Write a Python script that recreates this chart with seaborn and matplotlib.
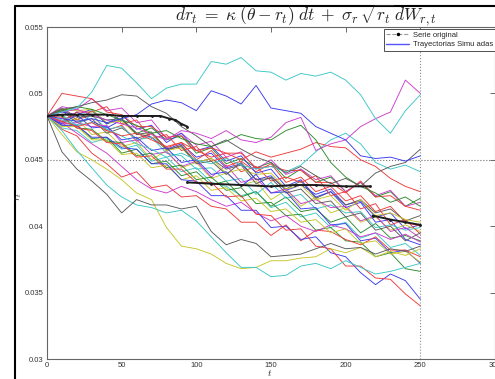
import numpy as np
import pandas as pd
import matplotlib
matplotlib.use("Agg")
import matplotlib.pyplot as plt
from matplotlib.lines import Line2D
import seaborn as sns

# time axis of the simulated paths
t_grid = [0, 10, 20, 30, 40, 50, 60, 70, 80, 90, 100, 110, 120,
          130, 140, 150, 160, 170, 180, 190, 200, 210, 220, 230, 240, 250]

# simulated CIR paths (rate level at each time of t_grid)
path_c_top = [.0483, .0486, .0489, .0501, .0521, .0519, .0508, .0496, .0504, .0507, .0507, .0524, .0522,
              .0527, .0517, .0516, .0510, .0515, .0513, .0516, .0510, .0499, .0481, .0470, .0487, .0499]
path_b_high = [.0483, .0481, .0479, .0481, .0478, .0481, .0484, .0492, .0495, .0493, .0487, .0502, .0498,
               .0492, .0506, .0489, .0487, .0485, .0475, .0470, .0465, .0453, .0451, .0452, .0449, .0453]
path_m_high = [.0483, .0486, .0488, .0484, .0480, .0477, .0474, .0469, .0465, .0472, .0470, .0466, .0472,
               .0465, .0463, .0467, .0478, .0482, .0457, .0462, .0465, .0475, .0481, .0486, .0510, .0500]
path_k_up = [.0483, .0488, .0490, .0493, .0495, .0499, .0498, .0490, .0485, .0475, .0468, .0460, .0465,
             .0458, .0452, .0448, .0440, .0445, .0438, .0432, .0436, .0430, .0440, .0445, .0448, .0458]
path_g_up = [.0483, .0487, .0490, .0488, .0484, .0480, .0476, .0470, .0472, .0466, .0462, .0460, .0464,
             .0469, .0466, .0465, .0472, .0476, .0465, .0448, .0437, .0430, .0425, .0418, .0422, .0415]
path_r_mid = [.0483, .0479, .0475, .0478, .0472, .0468, .0470, .0465, .0460, .0463, .0457, .0452, .0455,
              .0450, .0456, .0452, .0455, .0458, .0463, .0460, .0459, .0450, .0445, .0436, .0430, .0426]
path_c_mid = [.0483, .0480, .0476, .0478, .0473, .0468, .0462, .0458, .0452, .0455, .0450, .0447, .0451,
              .0446, .0443, .0445, .0441, .0446, .0456, .0465, .0470, .0462, .0448, .0443, .0446, .0441]
path_k_low = [.0483, .0456, .0443, .0434, .0424, .0410, .0420, .0416, .0416, .0413, .0415, .0396, .0386,
              .0390, .0387, .0377, .0378, .0379, .0383, .0387, .0383, .0384, .0379, .0383, .0381, .0385]
path_c_low = [.0483, .0472, .0457, .0444, .0431, .0422, .0416, .0414, .0410, .0412, .0404, .0392, .0380,
              .0369, .0369, .0362, .0363, .0370, .0372, .0368, .0374, .0369, .0364, .0366, .0369, .0372]
path_y_low = [.0483, .0469, .0456, .0450, .0443, .0435, .0425, .0420, .0399, .0385, .0383, .0379, .0372,
              .0368, .0369, .0374, .0374, .0376, .0377, .0383, .0380, .0384, .0377, .0381, .0378, .0383]
path_r_low = [.0483, .0482, .0474, .0472, .0463, .0462, .0452, .0453, .0443, .0443, .0433, .0433, .0422,
              .0423, .0409, .0408, .0397, .0398, .0385, .0383, .0370, .0370, .0361, .0360, .0349, .0340]
path_b_low = [.0483, .0476, .0476, .0467, .0467, .0459, .0458, .0447, .0447, .0435, .0434, .0423, .0423,
              .0412, .0412, .0399, .0400, .0390, .0392, .0380, .0377, .0365, .0356, .0364, .0359, .0345]
path_r_early = [.0483, .0500, .0498, .0496, .0486, .0484, .0475, .0475, .0467, .0468, .0457, .0459, .0455,
                .0455, .0444, .0445, .0442, .0442, .0433, .0433, .0425, .0434, .0422, .0423, .0415, .0412]
path_r_lmid = [.0483, .0473, .0468, .0455, .0447, .0437, .0441, .0429, .0431, .0422, .0423, .0415, .0413,
               .0403, .0403, .0393, .0401, .0389, .0397, .0396, .0390, .0386, .0392, .0382, .0382, .0377]
path_m_low = [.0483, .0478, .0470, .0462, .0455, .0445, .0435, .0428, .0425, .0430, .0426, .0420, .0415,
              .0418, .0410, .0404, .0408, .0400, .0396, .0401, .0398, .0392, .0395, .0390, .0394, .0388]
path_g_mid = [.0483, .0488, .0480, .0487, .0477, .0481, .0470, .0474, .0465, .0468, .0455, .0459, .0447,
              .0451, .0444, .0448, .0436, .0443, .0433, .0437, .0426, .0433, .0422, .0426, .0415, .0421]
path_b_mid = [.0483, .0478, .0486, .0479, .0474, .0480, .0470, .0467, .0458, .0462, .0452, .0455, .0444,
              .0447, .0435, .0438, .0427, .0431, .0424, .0428, .0416, .0419, .0407, .0410, .0398, .0401]
path_c_mid2 = [.0483, .0474, .0472, .0463, .0466, .0458, .0461, .0449, .0452, .0441, .0444, .0433, .0430,
               .0423, .0426, .0414, .0418, .0407, .0410, .0399, .0403, .0391, .0395, .0384, .0387, .0378]
path_m_mid = [.0483, .0490, .0488, .0496, .0487, .0489, .0478, .0480, .0466, .0470, .0461, .0464, .0452,
              .0456, .0443, .0450, .0439, .0443, .0435, .0438, .0426, .0433, .0423, .0427, .0415, .0418]
path_y_mid = [.0483, .0478, .0481, .0469, .0471, .0460, .0463, .0450, .0457, .0444, .0448, .0436, .0440,
              .0431, .0434, .0420, .0427, .0415, .0422, .0410, .0414, .0403, .0407, .0397, .0401, .0396]
path_k_mid = [.0483, .0487, .0478, .0481, .0470, .0474, .0466, .0470, .0457, .0461, .0448, .0451, .0443,
              .0446, .0432, .0437, .0428, .0434, .0421, .0426, .0416, .0420, .0410, .0413, .0404, .0408]
path_b_b = [.0483, .0486, .0484, .0488, .0477, .0484, .0473, .0476, .0463, .0470, .0457, .0460, .0449,
            .0453, .0440, .0443, .0430, .0435, .0422, .0426, .0414, .0418, .0403, .0405, .0390, .0386]
path_g_b = [.0483, .0476, .0476, .0466, .0467, .0455, .0458, .0447, .0449, .0438, .0441, .0431, .0434,
            .0422, .0426, .0415, .0422, .0411, .0413, .0403, .0407, .0395, .0402, .0391, .0393, .0389]
path_r_b = [.0483, .0488, .0480, .0484, .0472, .0476, .0464, .0470, .0459, .0463, .0450, .0457, .0445,
            .0449, .0441, .0447, .0433, .0437, .0426, .0430, .0419, .0423, .0411, .0415, .0403, .0400]
path_c_c = [.0483, .0484, .0476, .0484, .0473, .0475, .0465, .0467, .0455, .0453, .0443, .0444, .0434,
            .0436, .0424, .0433, .0421, .0424, .0413, .0416, .0410, .0411, .0399, .0401, .0397, .0399]
path_m_c = [.0483, .0477, .0478, .0475, .0476, .0463, .0465, .0454, .0456, .0445, .0449, .0437, .0446,
            .0433, .0436, .0425, .0428, .0417, .0420, .0414, .0415, .0404, .0408, .0396, .0399, .0391]
path_y_c = [.0483, .0488, .0487, .0488, .0478, .0479, .0469, .0470, .0457, .0459, .0448, .0451, .0440,
            .0443, .0439, .0440, .0428, .0431, .0420, .0423, .0412, .0420, .0408, .0410, .0405, .0403]
path_g_c = [.0483, .0483, .0474, .0473, .0464, .0463, .0453, .0455, .0444, .0446, .0435, .0437, .0427,
            .0429, .0417, .0418, .0408, .0409, .0397, .0399, .0389, .0388, .0377, .0380, .0368, .0366]
path_b_d = [.0483, .0477, .0484, .0474, .0475, .0465, .0467, .0457, .0459, .0448, .0450, .0439, .0441,
            .0430, .0439, .0425, .0426, .0413, .0414, .0401, .0402, .0389, .0391, .0380, .0382, .0372]
path_k_d = [.0483, .0489, .0482, .0483, .0480, .0481, .0469, .0471, .0458, .0460, .0447, .0449, .0439,
            .0448, .0435, .0436, .0425, .0428, .0417, .0419, .0407, .0410, .0397, .0400, .0389, .0395]
path_r_c = [.0483, .0479, .0486, .0486, .0490, .0477, .0480, .0466, .0469, .0457, .0460, .0449, .0452,
            .0441, .0445, .0434, .0437, .0433, .0438, .0423, .0426, .0413, .0417, .0401, .0405, .0394]
path_y_d = [.0483, .0475, .0475, .0465, .0465, .0454, .0455, .0444, .0446, .0435, .0438, .0427, .0429,
            .0419, .0421, .0411, .0413, .0403, .0405, .0395, .0398, .0387, .0389, .0379, .0381, .0373]

# observed series, drawn in three pieces
orig_t_1 = [0, 10, 20, 30, 40, 50, 60, 70, 76, 82, 86, 90, 94]
orig_r_1 = [.0483, .0484, .0484, .0484, .0484, .0483, .0483, .0483, .0483, .0481, .0480, .0477, .0475]
orig_t_2 = [94, 110, 130, 150, 166, 180, 200, 216]
orig_r_2 = [.0433, .0432, .0431, .0430, .0431, .0431, .0430, .0430]
orig_t_3 = [218, 230, 240, 250]
orig_r_3 = [.0408, .0405, .0403, .0401]

# MATLAB-style line colours
C = {"b": "#3a3aee", "g": "#2a8c2a", "r": "#ee3a3a", "c": "#3cc6c6",
     "m": "#cc3ccc", "y": "#c6c62a", "k": "#5a5a5a"}

paths = [
    ("b", path_b_mid), ("g", path_g_mid), ("r", path_r_b), ("c", path_c_mid2), ("m", path_m_mid),
    ("y", path_y_mid), ("k", path_k_mid), ("b", path_b_b), ("g", path_g_b), ("r", path_r_c),
    ("c", path_c_c), ("m", path_m_c), ("y", path_y_c), ("k", path_k_d), ("b", path_b_d),
    ("g", path_g_c), ("r", path_r_lmid), ("m", path_m_low), ("y", path_y_d), ("r", path_r_early),
    ("b", path_b_low), ("r", path_r_low), ("y", path_y_low), ("c", path_c_low), ("k", path_k_low),
    ("c", path_c_mid), ("r", path_r_mid), ("g", path_g_up), ("k", path_k_up), ("m", path_m_high),
    ("b", path_b_high), ("c", path_c_top),
]

rows = []
palette = {}
for i, (col, vals) in enumerate(paths):
    name = f"p{i:02d}"
    palette[name] = C[col]
    for t, r in zip(t_grid, vals):
        rows.append((t, r, name))
df = pd.DataFrame(rows, columns=["t", "r", "path"])

orig = pd.DataFrame({
    "t": orig_t_1 + orig_t_2 + orig_t_3,
    "r": orig_r_1 + orig_r_2 + orig_r_3,
    "seg": [1] * len(orig_t_1) + [2] * len(orig_t_2) + [3] * len(orig_t_3),
})

sns.set_style("white")
plt.rcParams["font.family"] = ["Liberation Sans", "DejaVu Sans"]
plt.rcParams["mathtext.fontset"] = "cm"

W, H = 495, 379
fig = plt.figure(figsize=(W / 100, H / 100), dpi=100)
ax = fig.add_axes([47 / W, 1 - 359 / H, 448 / W, 332 / H])

# reference lines at the last simulated date and the 4.5% level
ax.axvline(250, color="0.55", lw=0.8, ls=":", zorder=1)
ax.axhline(0.045, color="0.45", lw=0.8, ls=":", zorder=1)

sns.lineplot(data=df, x="t", y="r", hue="path", palette=palette, estimator=None,
             sort=False, legend=False, lw=0.65, ax=ax, zorder=2)
sns.lineplot(data=orig, x="t", y="r", units="seg", estimator=None, sort=False,
             color="#1c1c1c", lw=1.4, marker=".", markersize=2.5, mec="#1c1c1c",
             legend=False, ax=ax, zorder=3)

ax.set_xlim(0, 300)
ax.set_ylim(0.03, 0.055)
ax.set_xticks([0, 50, 100, 150, 200, 250, 300])
ax.set_xticklabels(["0", "50", "100", "150", "200", "250", "300"])
ax.set_yticks([0.03, 0.035, 0.04, 0.045, 0.05, 0.055])
ax.set_yticklabels(["0.03", "0.035", "0.04", "0.045", "0.05", "0.055"])
ax.tick_params(direction="in", length=3.5, width=0.6, top=True, right=True,
               labelsize=5.5, pad=2.5, colors="0.3", labelcolor="0.2")
for s in ax.spines.values():
    s.set_color("0.4")
    s.set_linewidth(0.8)
ax.set_xlabel("")
ax.set_ylabel("")

fig.text(306 / W, 1 - 15 / H,
         r"$dr_t\; =\; \kappa\;(\theta - r_t)\;dt\; +\; \sigma_r\,\sqrt{r_t}\,dW_{r,t}$",
         ha="center", va="center", fontsize=12.5)
fig.text(19 / W, 1 - 196 / H, r"$r_t$", rotation=90, ha="center", va="center", fontsize=7.5)
fig.text(270 / W, 1 - 373 / H, r"$t$", ha="center", va="center", fontsize=7)

handles = [
    Line2D([], [], color="0.6", ls="--", lw=0.8, marker=".", markersize=3,
           mfc="k", mec="k"),
    Line2D([], [], color="#5555ff", lw=1.0),
]
leg = ax.legend(handles, ["Serie original", "Trayectorias Simu adas"],
                loc="upper left", bbox_to_anchor=(0.752, 0.993), fontsize=5.5,
                frameon=True, fancybox=False, edgecolor="0.2", framealpha=1,
                borderpad=0.3, labelspacing=0.25, handlelength=3.0,
                handletextpad=0.5, borderaxespad=0)
leg.get_frame().set_linewidth(0.6)

# outer frame of the figure
fig.add_artist(Line2D([15 / W, 15 / W], [0, 1 - 6 / H], color="black", lw=1.5,
                      transform=fig.transFigure))
fig.add_artist(Line2D([15 / W, 1], [1 - 6 / H, 1 - 6 / H], color="black", lw=1.5,
                      transform=fig.transFigure))

fig.savefig("out.png", dpi=100)
